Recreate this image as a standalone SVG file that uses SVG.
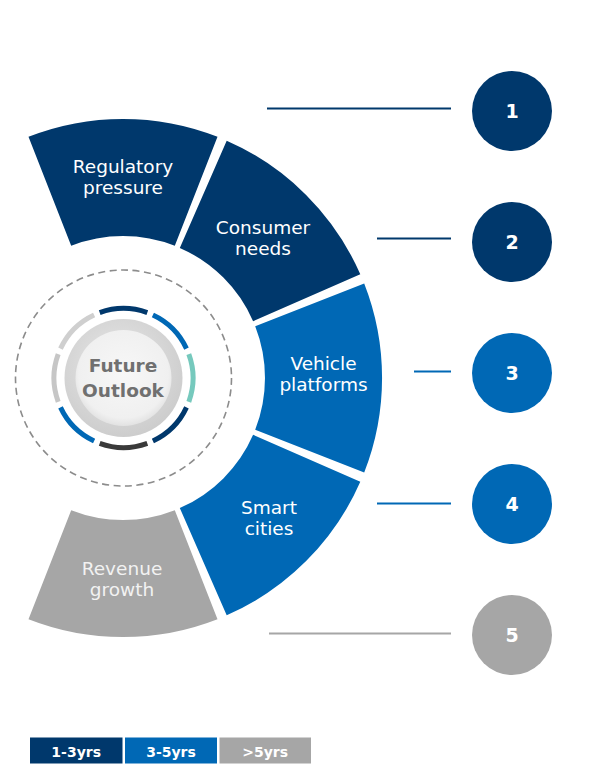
<svg xmlns="http://www.w3.org/2000/svg" width="595" height="779" viewBox="0 0 595 779">
<style>
.navy{fill:#00386C}
.blue{fill:#0068B5}
.gray{fill:#A6A6A6}
.lbl{font-family:"DejaVu Sans",Verdana,sans-serif;font-size:18.5px;fill:#FFFFFF;text-anchor:middle}
.lblg{fill:#F2F2F2}
.num{font-family:"DejaVu Sans",Verdana,sans-serif;font-size:19px;font-weight:bold;fill:#FFFFFF;text-anchor:middle}
.leg{font-family:"DejaVu Sans",Verdana,sans-serif;font-size:14px;font-weight:bold;fill:#FFFFFF;text-anchor:middle}
.conn{stroke-width:2;fill:none}
.arc{fill:none;stroke-width:5}
.ctr{font-family:"DejaVu Sans",Verdana,sans-serif;font-size:18.5px;font-weight:bold;fill:#707070;text-anchor:middle}
</style>
<defs>
<radialGradient id="disc" cx="0.45" cy="0.4" r="0.6">
<stop offset="0" stop-color="#E8E8E8"/>
<stop offset="1" stop-color="#CDCDCD"/>
</radialGradient>
<radialGradient id="inner" cx="0.5" cy="0.45" r="0.55">
<stop offset="0" stop-color="#F7F7F7"/>
<stop offset="0.85" stop-color="#F0F0F0"/>
<stop offset="1" stop-color="#E2E2E2"/>
</radialGradient>
</defs>
<rect width="595" height="779" fill="#FFFFFF"/>

<g id="connectors">
<line class="conn" x1="267" y1="108.5" x2="451" y2="108.5" stroke="#00386C"/>
<line class="conn" x1="377" y1="238.5" x2="451" y2="238.5" stroke="#00386C"/>
<line class="conn" x1="414" y1="371.5" x2="451" y2="371.5" stroke="#0068B5"/>
<line class="conn" x1="377" y1="503.5" x2="451" y2="503.5" stroke="#0068B5"/>
<line class="conn" x1="269" y1="633.5" x2="451" y2="633.5" stroke="#A6A6A6"/>
</g>

<g id="seg-regulatory">
<path class="navy" d="M28.5,136.8 A259,259 0 0 1 217.5,136.8 L174.8,245.8 A142,142 0 0 0 71.2,245.8 Z"/>
<text class="lbl" x="123" y="173">Regulatory</text>
<text class="lbl" x="123" y="194">pressure</text>
</g>
<g id="seg-consumer">
<path class="navy" d="M226.7,140.7 A259,259 0 0 1 360.3,274.3 L253.1,321.2 A142,142 0 0 0 179.8,247.9 Z"/>
<text class="lbl" x="263" y="233.7">Consumer</text>
<text class="lbl" x="263" y="254.7">needs</text>
</g>
<g id="seg-vehicle">
<path class="blue" d="M364.2,283.5 A259,259 0 0 1 364.2,472.5 L255.2,429.8 A142,142 0 0 0 255.2,326.2 Z"/>
<text class="lbl" x="323.5" y="370.2">Vehicle</text>
<text class="lbl" x="323.5" y="391.2">platforms</text>
</g>
<g id="seg-smart">
<path class="blue" d="M360.3,481.7 A259,259 0 0 1 226.7,615.3 L179.8,508.1 A142,142 0 0 0 253.1,434.8 Z"/>
<text class="lbl" x="269" y="514.3">Smart</text>
<text class="lbl" x="269" y="535.3">cities</text>
</g>
<g id="seg-revenue">
<path class="gray" d="M217.5,619.2 A259,259 0 0 1 28.5,619.2 L71.2,510.2 A142,142 0 0 0 174.8,510.2 Z"/>
<text class="lbl lblg" x="122" y="575.3">Revenue</text>
<text class="lbl lblg" x="122" y="596.3">growth</text>
</g>

<g id="future-outlook">
<circle cx="123.5" cy="378" r="108" fill="none" stroke="#8C8C8C" stroke-width="1.6" stroke-dasharray="7,4.5"/>
<path class="arc" stroke="#00386C" d="M99.7,312.7 A69.5,69.5 0 0 1 147.3,312.7"/>
<path class="arc" stroke="#0068B5" d="M152.9,315.0 A69.5,69.5 0 0 1 186.5,348.6"/>
<path class="arc" stroke="#76C9BD" d="M188.8,354.2 A69.5,69.5 0 0 1 188.8,401.8"/>
<path class="arc" stroke="#00386C" d="M186.5,407.4 A69.5,69.5 0 0 1 152.9,441.0"/>
<path class="arc" stroke="#3A3A3A" d="M147.3,443.3 A69.5,69.5 0 0 1 99.7,443.3"/>
<path class="arc" stroke="#0068B5" d="M94.1,441.0 A69.5,69.5 0 0 1 60.5,407.4"/>
<path class="arc" stroke="#C6C6C6" d="M58.2,401.8 A69.5,69.5 0 0 1 58.2,354.2"/>
<path class="arc" stroke="#CFCFCF" d="M60.5,348.6 A69.5,69.5 0 0 1 94.1,315.0"/>
<circle cx="123.5" cy="378" r="59" fill="url(#disc)"/>
<circle cx="123.5" cy="378" r="48" fill="url(#inner)"/>
<text class="ctr" x="123" y="371.5">Future</text>
<text class="ctr" x="123" y="397">Outlook</text>
</g>

<g id="node-1"><circle class="navy" cx="512" cy="111" r="40"/><text class="num" x="512" y="118">1</text></g>
<g id="node-2"><circle class="navy" cx="512" cy="242" r="40"/><text class="num" x="512" y="249">2</text></g>
<g id="node-3"><circle class="blue" cx="512" cy="373" r="40"/><text class="num" x="512" y="380">3</text></g>
<g id="node-4"><circle class="blue" cx="512" cy="504" r="40"/><text class="num" x="512" y="511">4</text></g>
<g id="node-5"><circle class="gray" cx="512" cy="635" r="40"/><text class="num" x="512" y="642">5</text></g>

<g id="legend">
<rect class="navy" x="30" y="737.5" width="92.5" height="26"/>
<text class="leg" x="76.2" y="757">1-3yrs</text>
<rect class="blue" x="125" y="737.5" width="92" height="26"/>
<text class="leg" x="171" y="757">3-5yrs</text>
<rect class="gray" x="219.5" y="737.5" width="91.5" height="26"/>
<text class="leg" x="265.2" y="757" fill="#F2F2F2">&gt;5yrs</text>
</g>
</svg>
